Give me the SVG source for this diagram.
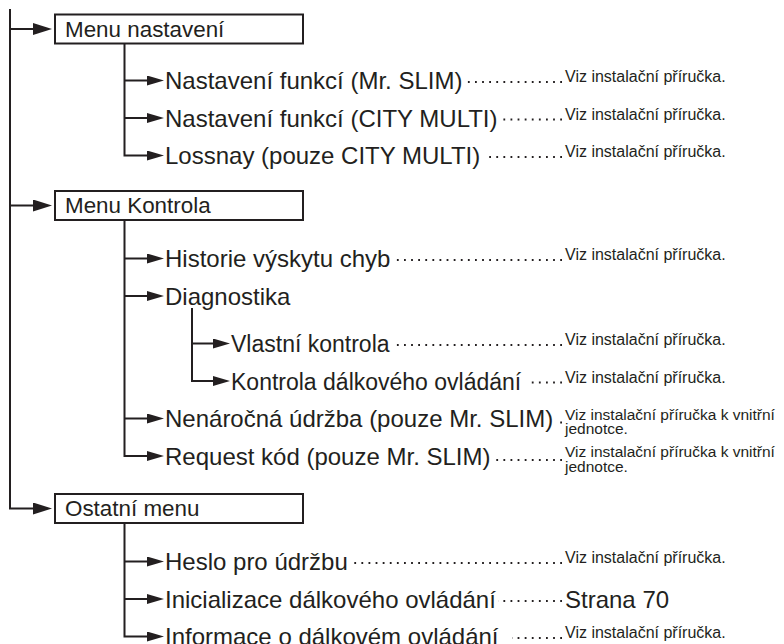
<svg xmlns="http://www.w3.org/2000/svg" width="784" height="644" viewBox="0 0 784 644">
<style>
text{font-family:"Liberation Sans",Arial,Helvetica,sans-serif;fill:#231f20}
.box{fill:#fff;stroke:#231f20;stroke-width:2}
.bt{font-size:22.4px}
.t1{font-size:24px}
.t2{font-size:23px}
.sm{font-size:16px}
.sm2{font-size:15.5px}
.ln{fill:none;stroke:#231f20;stroke-width:2}
.dot{fill:none;stroke:#231f20;stroke-width:1.8;stroke-dasharray:1.8 5.3}
</style>
<defs>
<marker id="mBig" viewBox="0 0 19 12" refX="1" refY="6" markerWidth="19" markerHeight="12" markerUnits="userSpaceOnUse" orient="auto"><path d="M0,0 L19,6 L0,12 z" fill="#231f20"/></marker>
<marker id="mSm" viewBox="0 0 17 10" refX="1" refY="5" markerWidth="17" markerHeight="10" markerUnits="userSpaceOnUse" orient="auto"><path d="M0,0 L17,5 L0,10 z" fill="#231f20"/></marker>
</defs>
<rect width="784" height="644" fill="#fff"/>
<g id="connectors">
<path class="ln" d="M10,9 V508.5 H34" marker-end="url(#mBig)"/>
<path class="ln" d="M10,29 H34" marker-end="url(#mBig)"/>
<path class="ln" d="M10,205.5 H34" marker-end="url(#mBig)"/>
<path class="ln" d="M124.5,43 V155.5 H148" marker-end="url(#mSm)"/>
<path class="ln" d="M124.5,80.5 H148" marker-end="url(#mSm)"/>
<path class="ln" d="M124.5,118 H148" marker-end="url(#mSm)"/>
<path class="ln" d="M124.5,220 V456 H148" marker-end="url(#mSm)"/>
<path class="ln" d="M124.5,258.5 H148" marker-end="url(#mSm)"/>
<path class="ln" d="M124.5,296 H148" marker-end="url(#mSm)"/>
<path class="ln" d="M124.5,418.5 H148" marker-end="url(#mSm)"/>
<path class="ln" d="M192,308 V381 H214" marker-end="url(#mSm)"/>
<path class="ln" d="M192,343.5 H214" marker-end="url(#mSm)"/>
<path class="ln" d="M124.5,523 V636.5 H148" marker-end="url(#mSm)"/>
<path class="ln" d="M124.5,561.5 H148" marker-end="url(#mSm)"/>
<path class="ln" d="M124.5,599 H148" marker-end="url(#mSm)"/>
<path class="dot" d="M562,82 H466"/>
<path class="dot" d="M562,119.5 H502"/>
<path class="dot" d="M562,157 H486"/>
<path class="dot" d="M562,260 H394"/>
<path class="dot" d="M562,345 H393"/>
<path class="dot" d="M562,382.5 H527"/>
<path class="dot" d="M562,422.5 H555"/>
<path class="dot" d="M562,460 H496"/>
<path class="dot" d="M562,563 H349"/>
<path class="dot" d="M562,601 H498"/>
<path class="dot" d="M562,638 H512"/>
</g>
<g id="menu-nastaveni"><rect class="box" x="55" y="14.5" width="248" height="29"/><text class="bt" x="65" y="36.5">Menu nastavení</text></g>
<g id="nf-mrslim"><text class="t1" x="165" y="89">Nastavení funkcí (Mr. SLIM)</text><text class="sm" x="565" y="82">Viz instalační příručka.</text></g>
<g id="nf-city"><text class="t1" x="165" y="126.5">Nastavení funkcí (CITY MULTI)</text><text class="sm" x="565" y="119.5">Viz instalační příručka.</text></g>
<g id="lossnay"><text class="t1" x="165" y="164">Lossnay (pouze CITY MULTI)</text><text class="sm" x="565" y="157">Viz instalační příručka.</text></g>
<g id="menu-kontrola"><rect class="box" x="55" y="191" width="248" height="29"/><text class="bt" x="65" y="213">Menu Kontrola</text></g>
<g id="historie"><text class="t1" x="165" y="267">Historie výskytu chyb</text><text class="sm" x="565" y="260">Viz instalační příručka.</text></g>
<g id="diagnostika"><text class="t1" x="165" y="304.5">Diagnostika</text></g>
<g id="vlastni"><text class="t2" x="231" y="352">Vlastní kontrola</text><text class="sm" x="565" y="345">Viz instalační příručka.</text></g>
<g id="kontrola-dalk"><text class="t2" x="231" y="389.5">Kontrola dálkového ovládání</text><text class="sm" x="565" y="382.5">Viz instalační příručka.</text></g>
<g id="nenarocna"><text class="t1" x="165" y="427">Nenáročná údržba (pouze Mr. SLIM)</text><text class="sm2" x="565" y="419.5">Viz instalační příručka k vnitřní</text><text class="sm2" x="565" y="434">jednotce.</text></g>
<g id="request"><text class="t1" x="165" y="464.5">Request kód (pouze Mr. SLIM)</text><text class="sm2" x="565" y="457">Viz instalační příručka k vnitřní</text><text class="sm2" x="565" y="471.5">jednotce.</text></g>
<g id="ostatni"><rect class="box" x="55" y="494" width="248" height="29"/><text class="bt" x="65" y="516">Ostatní menu</text></g>
<g id="heslo"><text class="t1" x="165" y="570">Heslo pro údržbu</text><text class="sm" x="565" y="563">Viz instalační příručka.</text></g>
<g id="inicializace"><text class="t1" x="165" y="607.5">Inicializace dálkového ovládání</text><text class="t1" x="565" y="607.5">Strana 70</text></g>
<g id="informace"><text class="t1" x="165" y="644.5">Informace o dálkovém ovládání</text><text class="sm" x="565" y="638">Viz instalační příručka.</text></g>
</svg>
